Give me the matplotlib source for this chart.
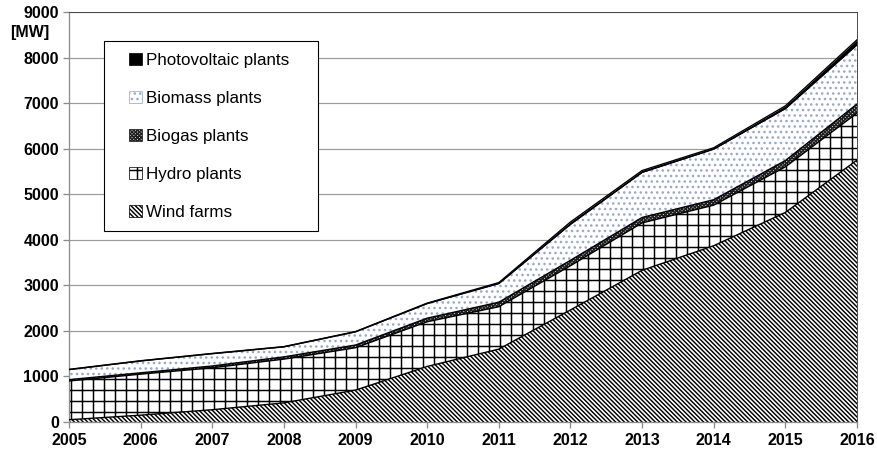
import numpy as np
import matplotlib
matplotlib.use("Agg")
import matplotlib.pyplot as plt
from matplotlib.patches import Patch, Rectangle

# installed capacity, MW (layer values, stacked bottom to top)
years = [2005, 2006, 2007, 2008, 2009, 2010, 2011, 2012, 2013, 2014, 2015, 2016]
wind = [50, 150, 270, 420, 700, 1220, 1600, 2460, 3330, 3870, 4600, 5750]
hydro = [850, 900, 920, 960, 930, 980, 930, 970, 1040, 890, 1000, 1030]
biogas = [30, 30, 40, 50, 60, 80, 100, 120, 120, 120, 140, 200]
biomass = [220, 260, 270, 220, 290, 320, 410, 790, 990, 1110, 1140, 1300]
pv = [5, 5, 5, 5, 5, 10, 20, 50, 40, 30, 60, 110]

labels = ["Wind farms", "Hydro plants", "Biogas plants", "Biomass plants",
          "Photovoltaic plants"]
yticks = list(range(0, 9001, 1000))

DPI = 66
W, H = 877, 459
plt.rcParams["font.family"] = ["Liberation Sans", "DejaVu Sans"]
plt.rcParams["hatch.linewidth"] = 1.6

fig = plt.figure(figsize=(W / DPI, H / DPI), dpi=DPI)
ax = fig.add_axes([69 / W, 1 - 422 / H, (857 - 69) / W, (422 - 12) / H])

layers = [wind, hydro, biogas, biomass, pv]
styles = [
    dict(facecolor="white", edgecolor="black", hatch="\\\\\\\\\\"),
    dict(facecolor="white", edgecolor="black", hatch="+"),
    dict(facecolor="#e0e0e0", edgecolor="#202020", hatch="xxxxxx"),
    dict(facecolor="white", edgecolor="#9aa8cf", hatch=".."),
    dict(facecolor="black", edgecolor="black", hatch=None),
]

lower = np.zeros(len(years))
handles = []
for vals, st, lab in zip(layers, styles, labels):
    upper = lower + np.array(vals, dtype=float)
    ax.fill_between(years, lower, upper, linewidth=0, zorder=2, **st)
    ax.plot(years, upper, color="black", lw=1.5, zorder=3)
    handles.append(Patch(label=lab, linewidth=0.8, **st))
    lower = upper

ax.set_xlim(2005, 2016)
ax.set_ylim(0, 9000)
ax.set_xticks(years)
ax.set_yticks(yticks)
ax.grid(True, axis="y", color="#9a9a9a", lw=1.3, zorder=0)
ax.set_axisbelow(True)

for s in ["left", "bottom"]:
    ax.spines[s].set_color("#8c8c8c")
    ax.spines[s].set_linewidth(1.4)
for s in ["top", "right"]:
    ax.spines[s].set_color("#404040")
    ax.spines[s].set_linewidth(1.0)

ax.tick_params(axis="both", colors="#8c8c8c", length=7, width=1.4,
               labelcolor="black", labelsize=17.5)
ax.tick_params(axis="x", pad=5)
ax.tick_params(axis="y", pad=4)
for t in ax.get_xticklabels() + ax.get_yticklabels():
    t.set_fontweight("bold")

fig.text(10 / W, 1 - 32 / H, "[MW]", fontsize=17.5, fontweight="bold",
         va="center", ha="left")

# legend frame drawn separately (wider side padding than top/bottom)
frame = Rectangle((104 / W, 1 - 231 / H), (318 - 104) / W, (231 - 41) / H,
                  transform=fig.transFigure, facecolor="white",
                  edgecolor="black", lw=1.2, zorder=4, clip_on=False)
ax.add_artist(frame)

leg = ax.legend(handles[::-1], labels[::-1], loc="upper left",
                bbox_to_anchor=(129 / W, 1 - 53 / H),
                bbox_transform=fig.transFigure, fontsize=18.5,
                frameon=False, labelspacing=1.36, handlelength=0.75,
                handleheight=0.72, handletextpad=0.25, borderpad=0,
                borderaxespad=0)
leg.set_zorder(5)

fig.savefig("out.png", dpi=DPI)
